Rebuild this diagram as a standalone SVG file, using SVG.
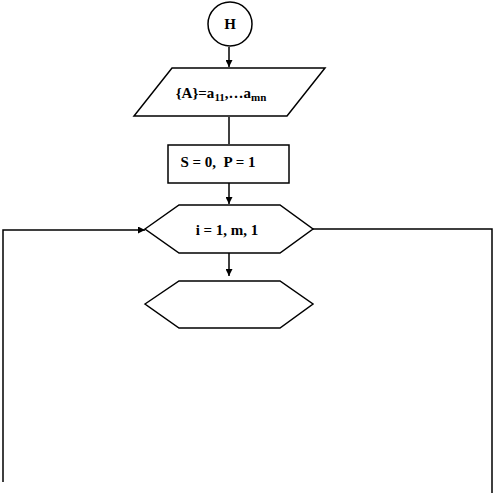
<svg xmlns="http://www.w3.org/2000/svg" width="494" height="496" viewBox="0 0 494 496">
<style>
.s{fill:#fff;stroke:#000;stroke-width:1.5}
.t{font-family:"Liberation Serif","Times New Roman",serif;font-weight:bold;font-size:15px;fill:#000;text-anchor:middle;white-space:pre}
.c{fill:none;stroke:#000;stroke-width:1.5}
</style>
<defs>
<marker id="a" viewBox="0 0 10 10" refX="10" refY="5" markerWidth="7" markerHeight="7" markerUnits="userSpaceOnUse" orient="auto">
<path d="M0,0 L10,5 L0,10 z" fill="#000"/>
</marker>
</defs>
<g id="connectors">
<line class="c" x1="229" y1="47" x2="229" y2="67" marker-end="url(#a)"/>
<line class="c" x1="229" y1="117" x2="229" y2="144"/>
<line class="c" x1="229" y1="183" x2="229" y2="204" marker-end="url(#a)"/>
<line class="c" x1="229" y1="253" x2="229" y2="276" marker-end="url(#a)"/>
<polyline class="c" points="3,482 3,230 145,230" marker-end="url(#a)"/>
<polyline class="c" points="313,229 492,229 492,493"/>
</g>
<g id="start">
<circle class="s" cx="230" cy="24" r="22"/>
<text class="t" x="230" y="29" font-size="12">Н</text>
</g>
<g id="input">
<polygon class="s" points="172,68 325,68 287,116 134,116"/>
<text class="t" x="221" y="98">{A}=a<tspan font-size="11" dy="3">11</tspan><tspan dy="-3">,…a</tspan><tspan font-size="11" dy="3">mn</tspan></text>
</g>
<g id="init">
<rect class="s" x="168" y="145" width="121" height="38"/>
<text class="t" x="218" y="167" font-size="16" xml:space="preserve">S = 0,  P = 1</text>
</g>
<g id="loop">
<polygon class="s" points="145,229 179,205 280,205 313,229 280,253 179,253"/>
<text class="t" x="227" y="235">i = 1, m, 1</text>
</g>
<g id="loop2">
<polygon class="s" points="145,304 179,281 280,281 313,304 280,328 179,328"/>
</g>
</svg>
